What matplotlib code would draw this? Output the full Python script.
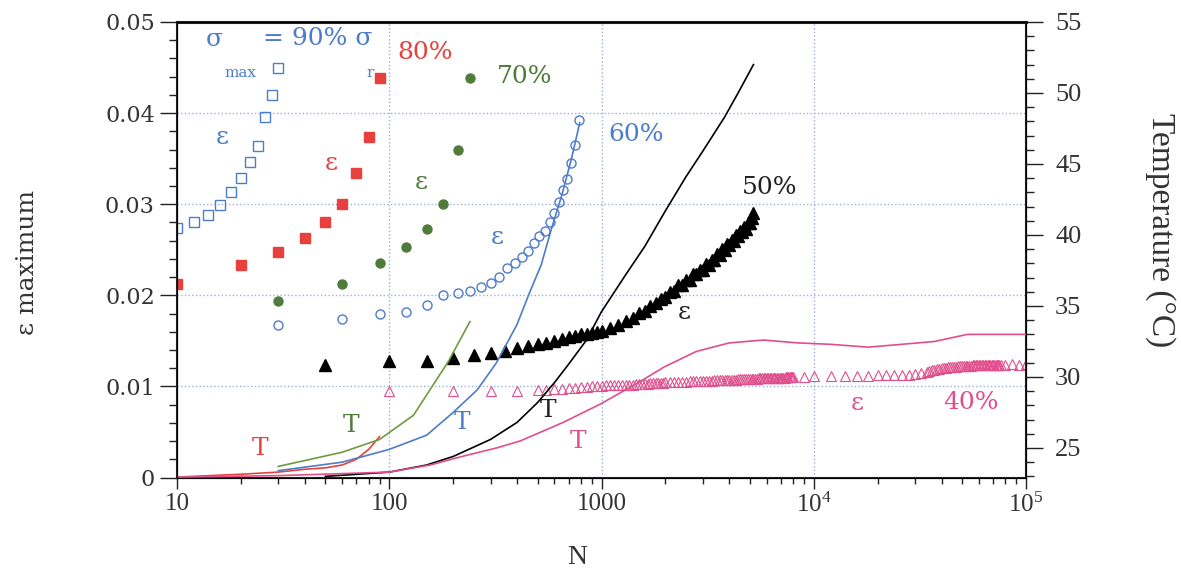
import matplotlib
matplotlib.use('Agg')
import matplotlib.pyplot as plt
from matplotlib.ticker import MultipleLocator, LogLocator, NullFormatter

plt.rcParams['font.family'] = 'DejaVu Serif'
plt.rcParams['mathtext.fontset'] = 'custom'
plt.rcParams['mathtext.rm'] = 'Liberation Serif'
plt.rcParams['mathtext.it'] = 'Liberation Serif:italic'

BLUE = '#4d7cc9'
RED = '#e8413d'
GREEN = '#4f7b3b'
GREEN_LINE = '#6f9a3f'
PINK = '#e04f8c'
TXT = '#333333'

# ---- maximum strain per loading level (sigma_max / sigma_r) ----
n90 = [10, 12, 14, 16, 18, 20, 22, 24, 26, 28, 30]
e90 = [0.0274, 0.0280, 0.0288, 0.0299, 0.0313, 0.0329, 0.0346, 0.0364, 0.0396, 0.0420, 0.0449]

n80 = [10, 20, 30, 40, 50, 60, 70, 80, 90]
e80 = [0.0212, 0.0233, 0.0247, 0.0263, 0.0280, 0.0300, 0.0334, 0.0374, 0.0439]

n70 = [30, 60, 90, 120, 150, 180, 210, 240]
e70 = [0.0194, 0.0212, 0.0235, 0.0253, 0.0273, 0.0300, 0.0359, 0.0438]

n60 = [30, 60, 90, 120, 150, 180, 210, 240, 270, 300, 330, 360, 390,
       420, 450, 480, 510, 540, 570, 600, 630, 660, 690, 720, 750, 780]
e60 = [0.0167, 0.0174, 0.0179, 0.0182, 0.0189, 0.0200, 0.0202, 0.0205, 0.0209,
       0.0214, 0.0220, 0.0230, 0.0236, 0.0242, 0.0249, 0.0257, 0.0265, 0.0271,
       0.0281, 0.0290, 0.0302, 0.0316, 0.0328, 0.0345, 0.0365, 0.0392]

n50 = [50, 100, 150, 200, 250, 300, 350, 400, 450, 500, 550, 600, 650, 700,
       750, 800, 850, 900, 950, 1000,
       1100, 1200, 1300, 1400, 1500, 1600, 1700, 1800, 1900, 2000,
       2100, 2200, 2300, 2400, 2500, 2600, 2700, 2800, 2900, 3000,
       3100, 3200, 3300, 3400, 3500, 3600, 3700, 3800, 3900, 4000,
       4100, 4200, 4300, 4400, 4500, 4600, 4700, 4800, 4900, 5000,
       5100, 5200]
e50 = [0.0123, 0.0128, 0.0128, 0.0131, 0.0135, 0.0137, 0.0139, 0.0142, 0.0144,
       0.0146, 0.0148, 0.0150, 0.0152, 0.0154, 0.0155, 0.0157, 0.0158, 0.0159,
       0.0160, 0.0161,
       0.0164, 0.0167, 0.0172, 0.0175, 0.0181, 0.0183, 0.0188, 0.0191, 0.0196, 0.0198,
       0.0204, 0.0205, 0.0211, 0.0211, 0.0217, 0.0217, 0.0223, 0.0223, 0.0228, 0.0228,
       0.0234, 0.0233, 0.0239, 0.0239, 0.0245, 0.0244, 0.0251, 0.0250, 0.0256, 0.0255,
       0.0261, 0.0260, 0.0266, 0.0265, 0.0271, 0.0269, 0.0275, 0.0273, 0.0279, 0.0279,
       0.0285, 0.0290]

n40 = [100, 200, 300, 400, 500,
       550, 600, 650, 700, 750, 800, 850, 900, 950, 1000,
       1050, 1100, 1150, 1200, 1250, 1300, 1350, 1400, 1450, 1500,
       1550, 1600, 1650, 1700, 1750, 1800, 1850, 1900, 1950, 2000,
       2100, 2200, 2300, 2400, 2500, 2600, 2700, 2800, 2900, 3000,
       3100, 3200, 3300, 3400, 3500, 3600, 3700, 3800, 3900, 4000,
       4100, 4200, 4300, 4400, 4500, 4600, 4700, 4800, 4900, 5000,
       5100, 5200, 5300, 5400, 5500, 5600, 5700, 5800, 5900, 6000,
       6100, 6200, 6300, 6400, 6500, 6600, 6700, 6800, 6900, 7000,
       7100, 7200, 7300, 7400, 7500, 7600, 7700, 7800, 7900, 8000,
       9000, 10000, 12000, 14000, 16000, 18000, 20000, 22000, 24000, 26000,
       28000, 30000, 32000, 34000,
       35000, 36000, 37000, 38000, 39000, 40000,
       41000, 42000, 43000, 44000, 45000,
       46000, 47000, 48000, 49000, 50000,
       51000, 52000, 53000, 54000, 55000, 56000, 57000, 58000, 59000, 60000,
       61000, 62000, 63000, 64000, 65000, 66000, 67000, 68000, 69000, 70000,
       71000, 72000, 73000, 74000, 75000, 76000,
       80000, 86000, 93000, 100000]
e40 = [0.0095, 0.0095, 0.0095, 0.0095, 0.0096,
       0.0096, 0.0097, 0.0097, 0.0098, 0.0098, 0.0099, 0.0099, 0.0100, 0.0100, 0.0100,
       0.0101, 0.0101, 0.0101, 0.0101, 0.0102, 0.0102, 0.0102, 0.0102, 0.0103, 0.0103,
       0.0103, 0.0103, 0.0103, 0.0104, 0.0104, 0.0104, 0.0104, 0.0104, 0.0104, 0.0105,
       0.0105, 0.0105, 0.0105, 0.0105, 0.0105, 0.0106, 0.0106, 0.0106, 0.0106, 0.0106,
       0.0106, 0.0106, 0.0106, 0.0107, 0.0107, 0.0107, 0.0107, 0.0107, 0.0107, 0.0107,
       0.0107, 0.0107, 0.0107, 0.0108, 0.0108, 0.0108, 0.0108, 0.0108, 0.0108, 0.0108,
       0.0108, 0.0108, 0.0108, 0.0108, 0.0109, 0.0109, 0.0109, 0.0109, 0.0109, 0.0109,
       0.0109, 0.0109, 0.0109, 0.0109, 0.0109, 0.0109, 0.0109, 0.0109, 0.0109, 0.0109,
       0.0109, 0.0109, 0.0109, 0.0110, 0.0110, 0.0110, 0.0110, 0.0110, 0.0110, 0.0110,
       0.0110, 0.0111, 0.0111, 0.0111, 0.0111, 0.0111, 0.0112, 0.0112, 0.0112, 0.0113,
       0.0113, 0.0114, 0.0115, 0.0116,
       0.0117, 0.0118, 0.0118, 0.0119, 0.0119, 0.0120,
       0.0120, 0.0120, 0.0121, 0.0121, 0.0121,
       0.0121, 0.0121, 0.0122, 0.0122, 0.0122,
       0.0122, 0.0122, 0.0122, 0.0122, 0.0122, 0.0123, 0.0123, 0.0123, 0.0123, 0.0123,
       0.0123, 0.0123, 0.0123, 0.0123, 0.0123, 0.0124, 0.0124, 0.0124, 0.0124, 0.0124,
       0.0124, 0.0124, 0.0124, 0.0124, 0.0124, 0.0124,
       0.0124, 0.0125, 0.0124, 0.0125]

# ---- specimen temperature (deg C) ----
tn80 = [10, 20, 30, 40, 50, 60, 70, 80, 90]
t80 = [22.95, 23.15, 23.3, 23.5, 23.6, 23.8, 24.2, 24.9, 25.8]

tn70 = [30, 60, 90, 130, 190, 240]
t70 = [23.7, 24.7, 25.6, 27.3, 31.1, 33.9]

tn60 = [30, 60, 100, 150, 200, 260, 320, 400, 460, 520, 580, 650, 720, 790]
t60 = [23.4, 24.0, 24.9, 25.9, 27.5, 29.1, 31.0, 33.7, 36.0, 37.9, 40.4, 42.8, 45.3, 47.9]

tn50 = [50, 100, 150, 200, 300, 400, 500, 600, 700, 850, 1000, 1300, 1600,
        2000, 2500, 3000, 3800, 4400, 5200]
t50 = [23.0, 23.3, 23.8, 24.4, 25.6, 26.8, 28.2, 29.6, 30.9, 32.6, 34.6, 37.2,
       39.2, 41.7, 44.1, 45.9, 48.3, 50.0, 52.0]

tn40 = [10, 30, 100, 156, 220, 320, 415, 660, 990, 1530, 1970, 2800, 4000,
        5800, 8400, 12000, 18000, 26000, 37000, 53000, 100000]
t40 = [22.95, 23.05, 23.3, 23.8, 24.4, 25.0, 25.5, 26.8, 28.1, 29.7, 30.7, 31.8,
       32.4, 32.6, 32.4, 32.3, 32.1, 32.3, 32.5, 33.0, 33.0]

fig = plt.figure(figsize=(11.81, 5.77), dpi=100)
ax = fig.add_axes([177 / 1181, 99.5 / 577, 849 / 1181, 455.5 / 577])
ax2 = ax.twinx()

ax.plot(n90, e90, ls='none', marker='s', ms=7, mfc='none', mec=BLUE, mew=1.0)
ax.plot(n80, e80, ls='none', marker='s', ms=7, color=RED)
ax.plot(n70, e70, ls='none', marker='o', ms=6.5, color=GREEN)
ax.plot(n60, e60, ls='none', marker='o', ms=6.5, mfc='none', mec=BLUE, mew=1.0)
ax.plot(n50, e50, ls='none', marker='^', ms=8, color='black')
ax.plot(n40, e40, ls='none', marker='^', ms=6.5, mfc='none', mec=PINK, mew=0.8)

ax2.plot(tn80, t80, color=RED, lw=1.2)
ax2.plot(tn70, t70, color=GREEN_LINE, lw=1.2)
ax2.plot(tn60, t60, color=BLUE, lw=1.2)
ax2.plot(tn50, t50, color='black', lw=1.2)
ax2.plot(tn40, t40, color=PINK, lw=1.2)

ax.set_xscale('log')
ax.set_xlim(10, 1e5)
ax.set_ylim(0, 0.05)
ax2.set_ylim(22.92, 55.0)

ax.grid(True, which='major', ls=':', color='#9aaee0', lw=1.0)

ax.set_xticks([10, 100, 1000, 1e4, 1e5], labels=['10', '100', '1000', '$10^4$', '$10^5$'])
ax.xaxis.set_minor_locator(LogLocator(base=10, subs=range(2, 10)))
ax.xaxis.set_minor_formatter(NullFormatter())
ax.set_yticks([0, 0.01, 0.02, 0.03, 0.04, 0.05],
              labels=['0', '0.01', '0.02', '0.03', '0.04', '0.05'])
ax.yaxis.set_minor_locator(MultipleLocator(0.002))
ax2.yaxis.set_major_locator(MultipleLocator(5))
ax2.yaxis.set_minor_locator(MultipleLocator(1))

for a in (ax, ax2):
    a.tick_params(which='major', direction='out', length=12, width=1, colors='#222222',
                  labelcolor=TXT)
    a.tick_params(which='minor', direction='out', length=6, width=1, colors='#222222')
ax.tick_params(axis='y', labelsize=16, pad=4)
ax.tick_params(axis='x', which='major', length=8, labelsize=18, pad=3)
ax.tick_params(axis='x', which='minor', length=4.5)
for lbl in ax.get_xticklabels():
    lbl.set_fontfamily('Liberation Serif')
ax2.tick_params(axis='y', labelsize=19, pad=9)
for lbl in ax2.get_yticklabels():
    lbl.set_fontfamily('Liberation Serif')
for s in ax.spines.values():
    s.set_linewidth(1.5)
    s.set_color('#222222')
ax.spines['top'].set_linewidth(2.2)

fig.text(577 / 1181, 1 - 558 / 577, 'N', ha='center', va='center',
         fontsize=20, family='Liberation Serif', color=TXT)
fig.text(28 / 1181, 1 - 263 / 577, 'ε maximum', rotation=90, ha='center', va='center',
         fontsize=18, color=TXT)
fig.text(1160 / 1181, 1 - 230 / 577, 'Temperature (°C)', rotation=270, ha='center',
         va='center', fontsize=24, family='Liberation Serif', color=TXT)

# curve labels
fs = 18
ax.text(14.9, 0.0481, 'σ', color=BLUE, fontsize=fs, ha='center', va='center')
ax.text(19.8, 0.0444, 'max', color=BLUE, fontsize=11, ha='center', va='center')
ax.text(25.4, 0.0482, '= 90% σ', color=BLUE, fontsize=fs, ha='left', va='center')
ax.text(81, 0.0444, 'r', color=BLUE, fontsize=11, ha='center', va='center')
ax.text(109, 0.0467, '80%', color=RED, fontsize=fs, ha='left', va='center')
ax.text(322, 0.0440, '70%', color=GREEN, fontsize=fs, ha='left', va='center')
ax.text(1075, 0.0376, '60%', color=BLUE, fontsize=fs, ha='left', va='center')
ax.text(4600, 0.0318, '50%', color='#222222', fontsize=fs, ha='left', va='center')
ax.text(40700, 0.0082, '40%', color=PINK, fontsize=fs, ha='left', va='center')

ax.text(16.3, 0.0373, 'ε', color=BLUE, fontsize=fs, ha='center', va='center')
ax.text(53.2, 0.0345, 'ε', color=RED, fontsize=fs, ha='center', va='center')
ax.text(141, 0.0324, 'ε', color=GREEN, fontsize=fs, ha='center', va='center')
ax.text(322, 0.0263, 'ε', color=BLUE, fontsize=fs, ha='center', va='center')
ax.text(2450, 0.0181, 'ε', color='#222222', fontsize=fs, ha='center', va='center')
ax.text(16000, 0.0081, 'ε', color=PINK, fontsize=fs, ha='center', va='center')

ax.text(24.6, 0.0032, 'T', color=RED, fontsize=fs, ha='center', va='center')
ax.text(66, 0.0057, 'T', color=GREEN, fontsize=fs, ha='center', va='center')
ax.text(220, 0.0060, 'T', color=BLUE, fontsize=fs, ha='center', va='center')
ax.text(560, 0.0073, 'T', color='#222222', fontsize=fs, ha='center', va='center')
ax.text(777, 0.0040, 'T', color=PINK, fontsize=fs, ha='center', va='center')

fig.savefig('out.png', dpi=100)
